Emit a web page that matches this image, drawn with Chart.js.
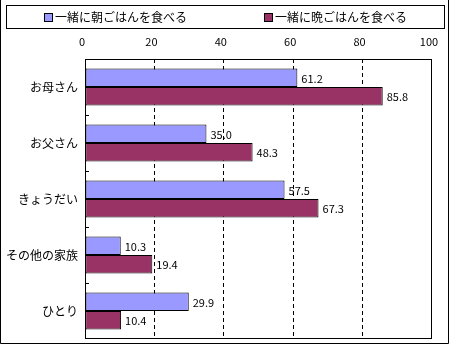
<!DOCTYPE html>
<html lang="ja">
<head>
<meta charset="UTF-8">
<title>一緒に食事をする人</title>
<script src="https://cdn.jsdelivr.net/npm/chart.js"></script>
<style>
    html, body { margin: 0; padding: 0; background: #fff; }
    #wrap { width: 450px; height: 345px; }
</style>
</head>
<body>
<div id="wrap"><canvas id="mealChart" width="450" height="345"></canvas></div>
<script>
    // 食事を一緒にとる相手（%）
    const categories = ['お母さん', 'お父さん', 'きょうだい', 'その他の家族', 'ひとり'];
    const breakfast = [61.2, 35.0, 57.5, 10.3, 29.9];
    const dinner = [85.8, 48.3, 67.3, 19.4, 10.4];
    const seriesNames = ['一緒に朝ごはんを食べる', '一緒に晩ごはんを食べる'];
    const seriesColors = ['#9999ff', '#993366'];
    const xTicks = [0, 20, 40, 60, 80, 100];

    const FONT = "'Noto Sans CJK JP', 'Noto Sans', sans-serif";

    // outer frame, plot frame, inner category ticks
    const framePlugin = {
        id: 'frames',
        afterDraw(chart) {
            const { ctx, chartArea: a, scales } = chart;
            ctx.save();
            ctx.strokeStyle = '#000';
            ctx.lineWidth = 1;
            ctx.strokeRect(Math.round(a.left) + 0.5, Math.round(a.top) + 0.5,
                Math.round(a.right - a.left) - 1, Math.round(a.bottom - a.top) - 1);
            const y = scales.y;
            ctx.beginPath();
            for (let i = 1; i < categories.length; i++) {
                const py = Math.round(y.getPixelForValue(i - 0.5)) + 0.5;
                ctx.moveTo(a.left, py);
                ctx.lineTo(a.left + 4, py);
            }
            ctx.stroke();
            // chart border
            ctx.beginPath();
            ctx.moveTo(0.5, 0);
            ctx.lineTo(0.5, 343.5);
            ctx.lineTo(448.5, 343.5);
            ctx.lineTo(448.5, 0);
            ctx.stroke();
            ctx.restore();
        }
    };

    // framed legend across the top
    const legendPlugin = {
        id: 'boxLegend',
        afterDraw(chart) {
            const { ctx } = chart;
            const box = { left: 6, top: 5, width: 439, height: 23 };
            ctx.save();
            ctx.strokeStyle = '#000';
            ctx.lineWidth = 1;
            ctx.strokeRect(box.left + 0.5, box.top + 0.5, box.width - 1, box.height);
            ctx.font = '12px ' + FONT;
            ctx.textBaseline = 'middle';
            const half = box.width / 2;
            const cy = box.top + box.height / 2 + 0.5;
            chart.data.datasets.forEach((ds, i) => {
                const tw = ctx.measureText(ds.label).width;
                const itemW = 9 + 2 + tw;
                const x0 = Math.round(box.left + half * i + (half - itemW) / 2);
                const sy = Math.round(cy - 4.5);
                ctx.fillStyle = ds.backgroundColor;
                ctx.fillRect(x0, sy, 9, 9);
                ctx.strokeRect(x0 + 0.5, sy + 0.5, 8, 8);
                ctx.fillStyle = '#000';
                ctx.fillText(ds.label, x0 + 11, cy);
            });
            ctx.restore();
        }
    };

    // value labels to the right of each bar
    const valueLabels = {
        id: 'valueLabels',
        afterDatasetsDraw(chart) {
            const { ctx } = chart;
            ctx.save();
            ctx.font = '11px ' + FONT;
            ctx.fillStyle = '#000';
            ctx.textBaseline = 'middle';
            ctx.textAlign = 'left';
            chart.data.datasets.forEach((ds, di) => {
                chart.getDatasetMeta(di).data.forEach((bar, i) => {
                    ctx.fillText(ds.data[i].toFixed(1), bar.x + 4, bar.y + 1);
                });
            });
            ctx.restore();
        }
    };

    // keep tick labels from pushing the plot area inward
    function noLabelPadding(scale) {
        scale.paddingLeft = 0;
        scale.paddingRight = 0;
        scale.paddingTop = 0;
        scale.paddingBottom = 0;
    }

    new Chart(document.getElementById('mealChart'), {
        type: 'bar',
        data: {
            labels: categories,
            datasets: [breakfast, dinner].map((vals, i) => ({
                label: seriesNames[i],
                data: vals,
                backgroundColor: seriesColors[i],
                borderColor: '#000',
                borderWidth: 1,
                borderSkipped: false,
                categoryPercentage: 0.66,
                barPercentage: 1.0
            }))
        },
        options: {
            indexAxis: 'y',
            responsive: false,
            animation: false,
            devicePixelRatio: 1,
            layout: { padding: { top: 0, left: 0, right: 18, bottom: 6 } },
            plugins: {
                legend: { display: false },
                tooltip: { enabled: false }
            },
            scales: {
                x: {
                    position: 'top',
                    min: 0,
                    max: 100,
                    afterFit(scale) { scale.height = 59; noLabelPadding(scale); },
                    afterBuildTicks(scale) { scale.ticks = xTicks.map(v => ({ value: v })); },
                    ticks: {
                        color: '#000',
                        font: { family: FONT, size: 11 },
                        padding: 11,
                        labelOffset: -3
                    },
                    grid: {
                        drawTicks: false,
                        lineWidth: 1,
                        color: ctx => (ctx.tick && (ctx.tick.value === 0 || ctx.tick.value === 100)) ? 'rgba(0,0,0,0)' : '#000'
                    },
                    border: { display: false, dash: [4, 3] }
                },
                y: {
                    afterFit(scale) { scale.width = 85; noLabelPadding(scale); },
                    ticks: {
                        color: '#000',
                        font: { family: FONT, size: 12 },
                        padding: 7
                    },
                    grid: { display: false, drawTicks: false },
                    border: { display: false }
                }
            }
        },
        plugins: [valueLabels, framePlugin, legendPlugin]
    });
</script>
</body>
</html>
